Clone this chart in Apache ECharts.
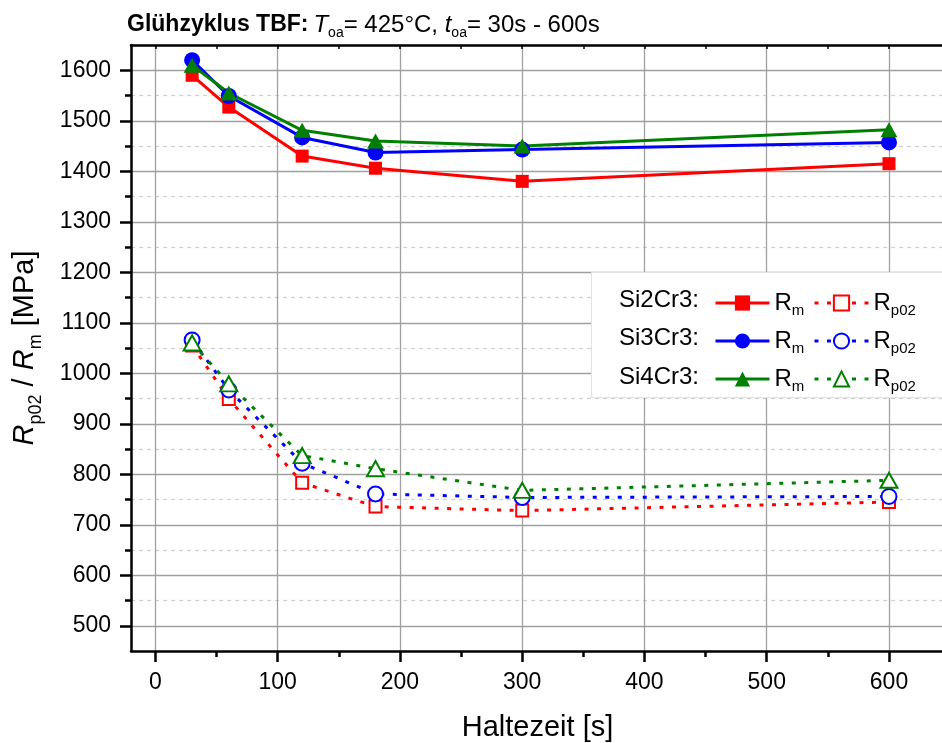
<!DOCTYPE html>
<html>
<head>
<meta charset="utf-8">
<script src="https://cdn.jsdelivr.net/npm/echarts@6/dist/echarts.min.js"></script>
<style>
  html, body { margin: 0; padding: 0; background: #ffffff; }
  #chart { width: 942px; height: 743px; }
</style>
</head>
<body>
<div id="chart"></div>
<script>
// Annealing times (s)
const times = [30, 60, 120, 180, 300, 600];
const alloys = ['Si2Cr3', 'Si3Cr3', 'Si4Cr3'];

// Tensile strength R_m (MPa)
const rmSi2Cr3 = [1590, 1527, 1430, 1406, 1380, 1415];
const rmSi3Cr3 = [1620, 1549, 1467, 1437, 1443, 1457];
const rmSi4Cr3 = [1610, 1555, 1481, 1460, 1450, 1482];

// Yield strength R_p0.2 (MPa)
const rpSi2Cr3 = [1055, 949, 783, 736, 728, 745];
const rpSi3Cr3 = [1066, 967, 822, 761, 754, 756];
const rpSi4Cr3 = [1060, 979, 837, 811, 768, 788];

// Axis ticks
const xTicks = [0, 100, 200, 300, 400, 500, 600];
const xMinorTicks = [50, 150, 250, 350, 450, 550];
const yTicks = [500, 600, 700, 800, 900, 1000, 1100, 1200, 1300, 1400, 1500, 1600];
const yMinorTicks = [550, 650, 750, 850, 950, 1050, 1150, 1250, 1350, 1450, 1550];

const FONT = 'Liberation Sans, Arial, sans-serif';
const colors = { Si2Cr3: '#ff0000', Si3Cr3: '#0000ff', Si4Cr3: '#008000' };
const rmSymbols = { Si2Cr3: ['rect', 13], Si3Cr3: ['circle', 16], Si4Cr3: ['triangle', [17, 15]] };
const rpSymbols = { Si2Cr3: ['emptyRect', 12], Si3Cr3: ['emptyCircle', 15], Si4Cr3: ['emptyTriangle', [17, 15]] };
const rmData = { Si2Cr3: rmSi2Cr3, Si3Cr3: rmSi3Cr3, Si4Cr3: rmSi4Cr3 };
const rpData = { Si2Cr3: rpSi2Cr3, Si3Cr3: rpSi3Cr3, Si4Cr3: rpSi4Cr3 };

const pairs = vals => times.map((t, i) => [t, vals[i]]);

const series = [];
alloys.forEach(a => {
  series.push({
    name: a + ' Rp02', type: 'line', xAxisIndex: 0, yAxisIndex: 0,
    data: pairs(rpData[a]),
    symbol: rpSymbols[a][0], symbolSize: rpSymbols[a][1],
    lineStyle: { color: colors[a], width: 3, type: [4, 8.5] },
    itemStyle: { color: colors[a], borderColor: colors[a], borderWidth: 1.3 },
    z: 2
  });
});
alloys.forEach(a => {
  series.push({
    name: a + ' Rm', type: 'line', xAxisIndex: 0, yAxisIndex: 0,
    data: pairs(rmData[a]),
    symbol: rmSymbols[a][0], symbolSize: rmSymbols[a][1],
    lineStyle: { color: colors[a], width: 3 },
    itemStyle: { color: colors[a] },
    z: 3
  });
});

const subRich = {
  r: { fontFamily: FONT, fontSize: 24, color: '#000', lineHeight: 30, verticalAlign: 'middle' },
  s: { fontFamily: FONT, fontSize: 15, color: '#000', lineHeight: 30, verticalAlign: 'bottom' }
};

const legendBase = {
  orient: 'vertical', top: 291, padding: 0, itemGap: 11,
  itemWidth: 54, itemHeight: 19, itemStyle: {},
  lineStyle: { width: 3 },
  selectedMode: false, textStyle: { rich: subRich },
  formatter: name => name.endsWith('Rm') ? '{r|R}{s|m}' : '{r|R}{s|p02}'
};

const xCommon = { type: 'value', min: -20, max: 645 };
const yCommon = { type: 'value', min: 450, max: 1650 };

const option = {
  animation: false,
  backgroundColor: '#ffffff',
  textStyle: { fontFamily: FONT },
  title: {
    left: 127, top: 10, padding: 0,
    text: '{b|Glühzyklus TBF:} {i|T}{s|oa}{n|= 425°C, }{i|t}{s|oa}{n|= 30s - 600s}',
    textStyle: {
      fontWeight: 'normal',
      rich: {
        b: { fontFamily: FONT, fontWeight: 'bold', fontSize: 23, color: '#000', lineHeight: 28, verticalAlign: 'middle' },
        i: { fontFamily: FONT, fontWeight: 'normal', fontStyle: 'italic', fontSize: 24, color: '#000', lineHeight: 28, verticalAlign: 'middle' },
        n: { fontFamily: FONT, fontWeight: 'normal', fontSize: 24, color: '#000', lineHeight: 28, verticalAlign: 'middle' },
        s: { fontFamily: FONT, fontWeight: 'normal', fontSize: 14, color: '#000', lineHeight: 30, verticalAlign: 'bottom' }
      }
    }
  },
  grid: { left: 131, top: 45, width: 813, bottom: 92, outerBoundsMode: 'none', containLabel: false },
  xAxis: [
    Object.assign({}, xCommon, {
      position: 'bottom',
      name: 'Haltezeit [s]', nameLocation: 'middle', nameGap: 62,
      nameTextStyle: { fontFamily: FONT, fontSize: 29, color: '#000' },
      axisLine: { show: true, onZero: false, lineStyle: { color: '#000', width: 2.5 } },
      axisTick: { show: true, inside: false, length: 11, customValues: xTicks, lineStyle: { color: '#000', width: 2.5 } },
      axisLabel: { show: true, customValues: xTicks, margin: 20, fontFamily: FONT, fontSize: 23, color: '#000', formatter: v => String(v) },
      splitLine: { show: true, lineStyle: { color: '#a0a0a0', width: 1.3 } }
    }),
    Object.assign({}, xCommon, {
      position: 'bottom',
      axisLine: { show: false, onZero: false },
      axisTick: { show: true, inside: false, length: 6, customValues: xMinorTicks, lineStyle: { color: '#000', width: 2.5 } },
      axisLabel: { show: false },
      splitLine: { show: false }
    }),
    Object.assign({}, xCommon, {
      position: 'top',
      axisLine: { show: true, onZero: false, lineStyle: { color: '#000', width: 2.5 } },
      axisTick: { show: true, inside: true, length: 4, customValues: xMinorTicks.concat(xTicks), lineStyle: { color: '#000', width: 1.5 } },
      axisLabel: { show: false },
      splitLine: { show: false }
    })
  ],
  yAxis: [
    Object.assign({}, yCommon, {
      position: 'left',
      name: '{i|R}{s|p02}{n| / }{i|R}{s|m}{n| [MPa]}',
      nameLocation: 'middle', nameGap: 86,
      nameTextStyle: {
        rich: {
          i: { fontFamily: FONT, fontStyle: 'italic', fontSize: 29, color: '#000', lineHeight: 40, verticalAlign: 'middle' },
          n: { fontFamily: FONT, fontSize: 29, color: '#000', lineHeight: 40, verticalAlign: 'middle' },
          s: { fontFamily: FONT, fontSize: 18, color: '#000', lineHeight: 40, verticalAlign: 'bottom' }
        }
      },
      axisLine: { show: true, onZero: false, lineStyle: { color: '#000', width: 2.5 } },
      axisTick: { show: true, inside: false, length: 11, customValues: yTicks, lineStyle: { color: '#000', width: 2.5 } },
      axisLabel: { show: true, customValues: yTicks, margin: 20, fontFamily: FONT, fontSize: 23, color: '#000', formatter: v => String(v) },
      splitLine: { show: true, lineStyle: { color: '#a0a0a0', width: 1.3 } }
    }),
    Object.assign({}, yCommon, {
      position: 'left',
      axisLine: { show: false, onZero: false },
      axisTick: { show: true, inside: false, length: 6, customValues: yMinorTicks, lineStyle: { color: '#000', width: 2.5 } },
      axisLabel: { show: false },
      splitLine: { show: true, lineStyle: { color: '#cfcfcf', width: 1.2, type: [4, 4] } }
    })
  ],
  legend: [
    Object.assign({}, legendBase, { left: 714, data: alloys.map(a => a + ' Rm') }),
    Object.assign({}, legendBase, { left: 813, data: alloys.map(a => a + ' Rp02') })
  ],
  graphic: [
    {
      type: 'rect', left: 591, top: 272, z: 3, silent: true,
      shape: { width: 360, height: 125 },
      style: { fill: '#ffffff', stroke: '#e2e2e2', lineWidth: 1 }
    }
  ].concat(alloys.map((a, i) => ({
    type: 'text', left: 619, top: 286.5 + i * 38.3, z: 5, silent: true,
    style: { text: a + ':', fontFamily: FONT, fontSize: 24, fill: '#000', lineHeight: 28 }
  }))),
  series: series
};

const chart = echarts.init(document.getElementById('chart'), null, { renderer: 'canvas' });
chart.setOption(option);
</script>
</body>
</html>
